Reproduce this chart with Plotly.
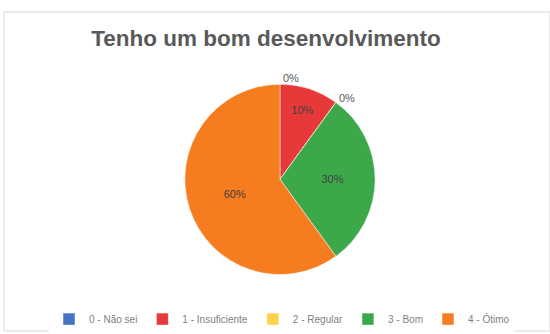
import plotly.graph_objects as go

labels = ["0 - Não sei", "1 - Insuficiente", "2 - Regular", "3 - Bom", "4 - Ótimo"]
values = [0, 10, 0, 30, 60]
colors = ["#4472C4", "#E8393A", "#FFD24A", "#3DA84A", "#F57C1F"]
textpos = ["outside", "inside", "outside", "inside", "inside"]

W, H = 550, 334
cx, cy, r = 280, 181, 96

fig = go.Figure(go.Pie(
    labels=labels,
    values=values,
    sort=False,
    direction="clockwise",
    rotation=0,
    marker=dict(colors=colors, line=dict(color="white", width=0.5)),
    texttemplate="%{percent:.0%}",
    textposition=textpos,
    textfont=dict(family="Liberation Sans, Arial", size=11, color="#404040"),
    insidetextfont=dict(family="Liberation Sans, Arial", size=11, color="#404040"),
    outsidetextfont=dict(family="Liberation Sans, Arial", size=11, color="#595959"),
    insidetextorientation="horizontal",
    showlegend=True,
    domain=dict(x=[(cx - r) / W, (cx + r) / W], y=[(H - cy - r) / H, (H - cy + r) / H]),
))

fig.update_layout(
    width=W, height=H,
    margin=dict(l=0, r=0, t=0, b=0),
    paper_bgcolor="white",
    title=dict(text="<b>Tenho um bom desenvolvimento</b>", x=266 / W, xanchor="center",
               y=1 - 38 / H, yanchor="middle",
               font=dict(family="Liberation Sans, Arial", size=22.5, color="#595959")),
    legend=dict(orientation="h", x=282 / W, xanchor="center", y=1 - 322 / H, yanchor="middle",
                font=dict(family="Liberation Sans, Arial", size=10, color="#7F7F7F"),
                itemwidth=30, traceorder="normal"),
    shapes=[dict(type="rect", xref="paper", yref="paper", x0=4 / W, x1=1, y0=0, y1=1 - 12 / H,
                 line=dict(color="#D9D9D9", width=1))],
)

fig.write_html("out.html", config={"displayModeBar": False},
               post_script="document.body.style.margin='0';")
